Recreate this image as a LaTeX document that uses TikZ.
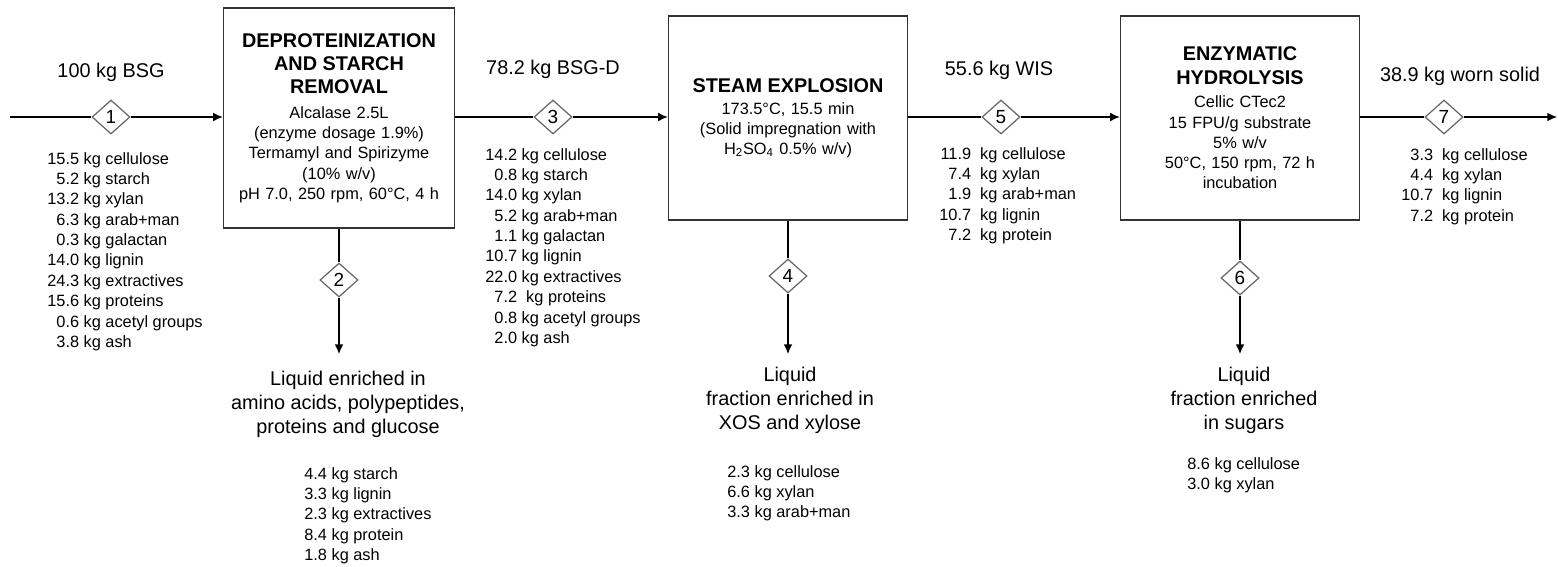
\documentclass[tikz,border=0pt]{standalone}
\usepackage{fontspec}
\setmainfont{Liberation Sans}
\usetikzlibrary{arrows.meta, positioning, shapes.geometric}

\newcommand{\ttlfont}{\fontsize{11.3}{13.3}\selectfont\bfseries}
\newcommand{\bdyfont}{\fontsize{9.3}{11.5}\selectfont\mdseries}
\newcommand{\lstfont}{\fontsize{9.3}{11.6}\selectfont}

\begin{document}
\begin{tikzpicture}[x=0.02cm, y=-0.02cm,
    proc/.style={draw=black!80, line width=0.8pt, align=center, inner sep=2pt,
                 minimum width=4.78cm, minimum height=4.08cm, text width=4.6cm,
                 font=\bdyfont},
    tag/.style={diamond, draw=black!60, fill=white, line width=0.7pt, aspect=1.12,
                minimum width=0.76cm, minimum height=0.68cm, inner sep=0pt,
                font=\fontsize{10.8}{12}\selectfont},
    mass/.style={font=\fontsize{11.3}{13.6}\selectfont},
    liq/.style={font=\fontsize{11.3}{13.6}\selectfont, align=center},
    comp/.style={font=\lstfont, inner sep=0pt, anchor=base west},
    pipe/.style={line width=0.75pt},
    flow/.style={-{Latex[length=5.5pt,width=5pt]}, line width=0.75pt},
]
\useasboundingbox (0,0) rectangle (1558,566);

% process units
\node[proc, minimum width=4.62cm, minimum height=4.4cm, text width=4.45cm] (dep) at (339,118)
   {{\ttlfont DEPROTEINIZATION\\AND STARCH\\REMOVAL\par}\vspace{2.5pt}
    Alcalase 2.5L\\(enzyme dosage 1.9\%)\\Termamyl and Spirizyme\\(10\% w/v)\\pH 7.0, 250 rpm, 60°C, 4 h};
\node[proc] (sex) at (788,118)
   {{\ttlfont STEAM EXPLOSION\par}\vspace{1pt}
    173.5°C, 15.5 min\\(Solid impregnation with\\H\textsubscript{2}SO\textsubscript{4} 0.5\% w/v)};
\node[proc] (enz) at (1240,118)
   {{\ttlfont ENZYMATIC\\HYDROLYSIS\par}\vspace{2pt}
    Cellic CTec2\\15 FPU/g substrate\\5\% w/v\\50°C, 150 rpm, 72 h\\incubation};

% stream numbers
\node[tag] (s1) at (111,117) {1};
\node[tag] (s2) at (339,280) {2};
\node[tag] (s3) at (553,117) {3};
\node[tag] (s4) at (788,276) {4};
\node[tag] (s5) at (1001,117) {5};
\node[tag] (s6) at (1240,278) {6};
\node[tag] (s7) at (1444,117) {7};

\coordinate (feed) at (10,117);
\coordinate (out)  at (1557,117);
\coordinate (e2)   at (339,354);
\coordinate (e4)   at (788,354);
\coordinate (e6)   at (1240,354);

% stream masses
\node[mass] (m1) at (111,72) {100 kg BSG};
\node[mass] (m3) at (553,69) {78.2 kg BSG-D};
\node[mass] (m5) at (999,70) {55.6 kg WIS};
\node[mass] (m7) at (1460,76) {38.9 kg worn solid};

% solid compositions
\node[comp] (c1) at (47,164) {\begin{tabular}[t]{@{}r@{\ }l@{}}
   15.5 & kg cellulose\\ 5.2 & kg starch\\ 13.2 & kg xylan\\ 6.3 & kg arab+man\\
   0.3 & kg galactan\\ 14.0 & kg lignin\\ 24.3 & kg extractives\\ 15.6 & kg proteins\\
   0.6 & kg acetyl groups\\ 3.8 & kg ash\end{tabular}};
\node[comp] (c3) at (485,160) {\begin{tabular}[t]{@{}r@{\ }l@{}}
   14.2 & kg cellulose\\ 0.8 & kg starch\\ 14.0 & kg xylan\\ 5.2 & kg arab+man\\
   1.1 & kg galactan\\ 10.7 & kg lignin\\ 22.0 & kg extractives\\ 7.2 & \ kg proteins\\
   0.8 & kg acetyl groups\\ 2.0 & kg ash\end{tabular}};
\node[comp] (c5) at (939,159) {\begin{tabular}[t]{@{}r@{\ \ }l@{}}
   11.9 & kg cellulose\\ 7.4 & kg xylan\\ 1.9 & kg arab+man\\ 10.7 & kg lignin\\
   7.2 & kg protein\end{tabular}};
\node[comp] (c7) at (1401,160) {\begin{tabular}[t]{@{}r@{\ \ }l@{}}
   3.3 & kg cellulose\\ 4.4 & kg xylan\\ 10.7 & kg lignin\\ 7.2 & kg protein\end{tabular}};

% liquid streams
\node[liq] (l2) at (348,404) {Liquid enriched in\\amino acids, polypeptides,\\proteins and glucose};
\node[liq] (l4) at (790,400) {Liquid\\fraction enriched in\\XOS and xylose};
\node[liq] (l6) at (1244,400) {Liquid\\fraction enriched\\in sugars};
\node[comp] (c2) at (304,479) {\begin{tabular}[t]{@{}l@{}}
   4.4 kg starch\\ 3.3 kg lignin\\ 2.3 kg extractives\\ 8.4 kg protein\\ 1.8 kg ash\end{tabular}};
\node[comp] (c4) at (727,477) {\begin{tabular}[t]{@{}l@{}}
   2.3 kg cellulose\\ 6.6 kg xylan\\ 3.3 kg arab+man\end{tabular}};
\node[comp] (c6) at (1187,469) {\begin{tabular}[t]{@{}l@{}}
   8.6 kg cellulose\\ 3.0 kg xylan\end{tabular}};

% main line
\draw[pipe] (feed) -- (s1);
\draw[flow] (s1) -- (s1 -| dep.west);
\draw[pipe] (s3 -| dep.east) -- (s3);
\draw[flow] (s3) -- (s3 -| sex.west);
\draw[pipe] (s5 -| sex.east) -- (s5);
\draw[flow] (s5) -- (s5 -| enz.west);
\draw[pipe] (s7 -| enz.east) -- (s7);
\draw[flow] (s7) -- (out);
% side streams
\draw[pipe] (dep) -- (s2);
\draw[flow] (s2) -- (e2);
\draw[pipe] (sex) -- (s4);
\draw[flow] (s4) -- (e4);
\draw[pipe] (enz) -- (s6);
\draw[flow] (s6) -- (e6);
\end{tikzpicture}
\end{document}
